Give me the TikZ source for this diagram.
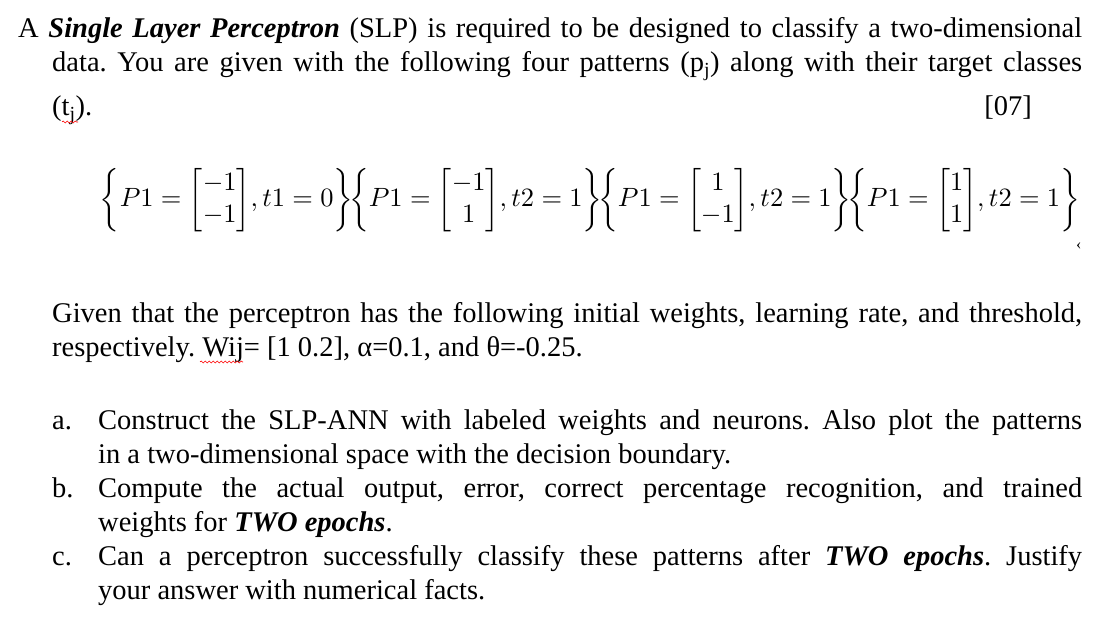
\documentclass[tikz,border=0pt]{standalone}
\usepackage{fontspec}
\setmainfont{Liberation Serif}
\usepackage{amsmath,graphicx}
\usetikzlibrary{decorations.pathmorphing}
\begin{document}
\frenchspacing
\begin{tikzpicture}[x=1pt,y=-1pt,
  ln/.style={anchor=base west,inner sep=0pt,font=\fontsize{28.5}{32}\selectfont},
  squig/.style={red,decorate,decoration={snake,amplitude=1pt,segment length=4pt},line width=0.6pt}]
\useasboundingbox (0,0) rectangle (1110,620);
\node[ln] (l1) at (18,38) {\makebox[1064pt][s]{A \textbf{\textit{Single Layer Perceptron}} (SLP) is required to be designed to classify a two-dimensional}};
\node[ln] (l2) at (52,72) {\makebox[1030pt][s]{data. You are given with the following four patterns (p\textsubscript{j}) along with their target classes}};
\node[ln] (l3) at (52,116) {(t\textsubscript{j}).};
\node[ln,anchor=base east] (m) at (1032,116) {[07]};
\draw[squig] (62,122) -- (78,122);
\node[inner sep=0pt] (eq) at (590,200) {\resizebox{980pt}{!}{$\displaystyle
\left\{P1=\begin{bmatrix}-1\\-1\end{bmatrix}\!,t1=0\right\}\!\!
\left\{P1=\begin{bmatrix}-1\\1\end{bmatrix}\!,t2=1\right\}\!\!
\left\{P1=\begin{bmatrix}1\\-1\end{bmatrix}\!,t2=1\right\}\!\!
\left\{P1=\begin{bmatrix}1\\1\end{bmatrix}\!,t2=1\right\}$}};
\node[ln,font=\fontsize{16}{18}\selectfont] (ang) at (1076,250) {‹};
\node[ln] (g1) at (52,322) {\makebox[1030pt][s]{Given that the perceptron has the following initial weights, learning rate, and threshold,}};
\node[ln] (g2) at (52,356) {respectively. Wij= [1 0.2], α=0.1, and θ=-0.25.};
\draw[squig] (200,362) -- (243,362);
\node[ln] (a) at (52,429) {a.};
\node[ln] (a1) at (98,429) {\makebox[984pt][s]{Construct the SLP-ANN with labeled weights and neurons. Also plot the patterns}};
\node[ln] (a2) at (98,463) {in a two-dimensional space with the decision boundary.};
\node[ln] (b) at (52,497) {b.};
\node[ln] (b1) at (98,497) {\makebox[984pt][s]{Compute the actual output, error, correct percentage recognition, and trained}};
\node[ln] (b2) at (98,531) {weights for \textbf{\textit{TWO epochs}}.};
\node[ln] (c) at (52,565) {c.};
\node[ln] (c1) at (98,565) {\makebox[984pt][s]{Can a perceptron successfully classify these patterns after \textbf{\textit{TWO epochs}}. Justify}};
\node[ln] (c2) at (98,599) {your answer with numerical facts.};
\end{tikzpicture}
\end{document}
